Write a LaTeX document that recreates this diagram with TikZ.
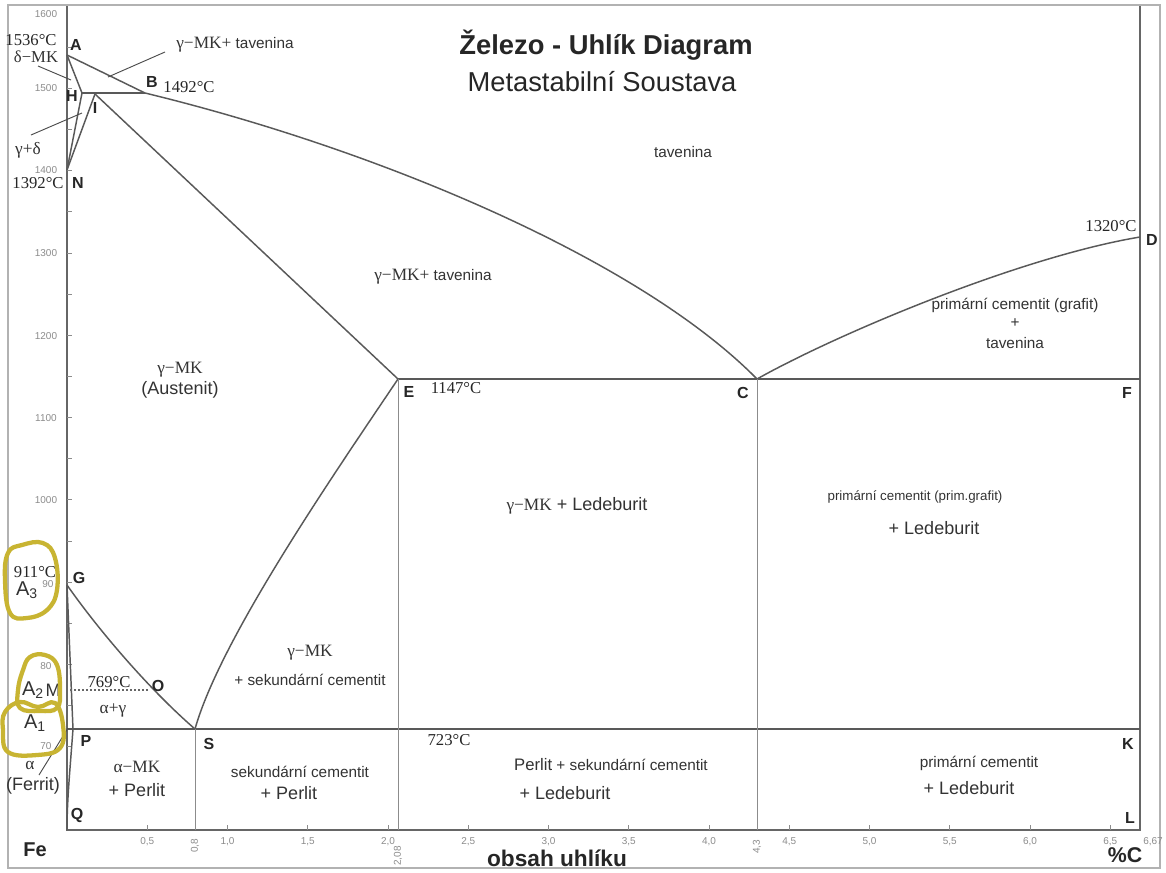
\documentclass[tikz,border=0pt]{standalone}
\usepackage{fontspec}
\setmainfont{Liberation Sans}
\newfontfamily\tms{Liberation Serif}
\definecolor{blobc}{RGB}{200,180,50}
\newcommand{\gfont}{\tms\fontsize{13}{15}\selectfont}
\begin{document}
\begin{tikzpicture}[x=0.75pt,y=-0.75pt,
  ptlab/.style={font=\bfseries\fontsize{12}{13}\selectfont, text=black!85, inner sep=0pt},
  regtxt/.style={font=\fontsize{11.5}{13}\selectfont, text=black!80, inner sep=0pt},
  bigtxt/.style={font=\fontsize{13.5}{15}\selectfont, text=black!80, inner sep=0pt},
  grk/.style={font=\gfont, text=black!80, inner sep=0pt},
  tmptxt/.style={font=\tms\fontsize{12.5}{14}\selectfont, text=black!85, inner sep=0pt},
  ticklab/.style={font=\fontsize{7.5}{8}\selectfont, text=black!45, inner sep=0pt},
  titletxt/.style={font=\fontsize{20.5}{23}\selectfont, text=black!85, inner sep=0pt},
  axtxt/.style={font=\bfseries\fontsize{16}{18}\selectfont, text=black!85, inner sep=0pt},
  phaseline/.style={draw=black!65, line width=1.1pt},
  thinline/.style={draw=black!45, line width=0.6pt},
  axisline/.style={draw=black!60, line width=1.1pt},
  leadline/.style={draw=black!70, line width=0.7pt},
  blobline/.style={draw=blobc, line width=3.2pt, line join=round},
]
\useasboundingbox (0,0) rectangle (1166,872);
\fill[white] (0,0) rectangle (1166,872);
\draw[black!30, line width=0.8pt] (8,5) rectangle (1160,868);

% key points
\coordinate (A) at (67,55);
\coordinate (B) at (145,93);
\coordinate (H) at (82,93);
\coordinate (I) at (95,94);
\coordinate (N) at (67,170);
\coordinate (E) at (398,379);
\coordinate (C) at (757,379);
\coordinate (F) at (1140,379);
\coordinate (D) at (1140,237);
\coordinate (G) at (67,585);
\coordinate (O) at (148,690);
\coordinate (Mp) at (70,690);
\coordinate (P) at (73,729);
\coordinate (Pl) at (67,729);
\coordinate (S) at (195,729);
\coordinate (K) at (1140,729);
\coordinate (Q) at (67,830);
\coordinate (L) at (1140,830);
\coordinate (TopL) at (67,6);
\coordinate (TopR) at (1140,6);
\coordinate (Eb) at (398,830);
\coordinate (Cb) at (757,830);
\coordinate (Sb) at (195,830);

% axes
\draw[axisline] (TopL) -- (Q) -- (L) -- (TopR);
\foreach \t in {700,750,...,1550} \draw[black!45, line width=0.5pt] (67,{6+(1600-\t)*0.823}) -- (72,{6+(1600-\t)*0.823});
\foreach \c in {0.5,1.0,...,6.5} \draw[black!45, line width=0.5pt] ({67+\c*160.5},830) -- ({67+\c*160.5},825);

% phase lines
\draw[phaseline] (A) -- (B);
\draw[phaseline] (A) -- (H);
\draw[phaseline] (H) -- (B);
\draw[phaseline] (H) -- (N);
\draw[phaseline] (I) -- (N);
\draw[phaseline] (I) -- (E);
\draw[phaseline] (B) .. controls (380,150) and (640,260) .. (C);
\draw[phaseline] (C) .. controls (837,334) and (1020,257) .. (D);
\draw[phaseline, line width=1.4pt] (E) -- (F);
\draw[phaseline] (E) .. controls (330,480) and (220,640) .. (S);
\draw[phaseline] (G) .. controls (100,632) and (150,690) .. (S);
\draw[phaseline] (G) -- (P);
\draw[phaseline] (P) .. controls (70,770) and (67,800) .. (Q);
\draw[phaseline, line width=1.5pt] (Pl) -- (K);
\draw[thinline] (E) -- (Eb);
\draw[thinline] (C) -- (Cb);
\draw[thinline] (S) -- (Sb);
\draw[black!60, line width=0.8pt, dash pattern=on 1.5pt off 1.5pt] (Mp) -- (O);

% leader lines
\coordinate (l1a) at (165,52); \coordinate (l1b) at (108,77);
\coordinate (l2a) at (38,66);  \coordinate (l2b) at (71,80);
\coordinate (l3a) at (31,135); \coordinate (l3b) at (82,113);
\coordinate (l4a) at (39,775); \coordinate (l4b) at (68,728);
\draw[leadline] (l1a) -- (l1b);
\draw[leadline] (l2a) -- (l2b);
\draw[leadline] (l3a) -- (l3b);
\draw[leadline] (l4a) -- (l4b);

% title
\node[titletxt, font=\bfseries\fontsize{20.5}{23}\selectfont] (title) at (606,45) {Železo - Uhlík Diagram};
\node[titletxt] (subtitle) at (602,82) {Metastabilní Soustava};

% temperature tick labels
\node[ticklab] (t1600) at (46,14) {1600};
\node[ticklab] (t1500) at (46,88) {1500};
\node[ticklab] (t1400) at (46,170) {1400};
\node[ticklab] (t1300) at (46,253) {1300};
\node[ticklab] (t1200) at (46,336) {1200};
\node[ticklab] (t1100) at (46,418) {1100};
\node[ticklab] (t1000) at (46,500) {1000};
\node[ticklab] (t900) at (48,584) {90};
\node[ticklab] (t800) at (46,666) {80};
\node[ticklab] (t700) at (46,746) {70};

% carbon tick labels
\foreach \c/\s in {0.5/{0,5},1.0/{1,0},1.5/{1,5},2.0/{2,0},2.5/{2,5},3.0/{3,0},3.5/{3,5},4.0/{4,0},4.5/{4,5},5.0/{5,0},5.5/{5,5},6.0/{6,0},6.5/{6,5}}
  \node[ticklab] (c\c) at ({67+\c*160.5},842) {\s};
\node[ticklab] (c667) at (1153,842) {6,67};
\node[ticklab, rotate=90] (c08) at (195,846) {0,8};
\node[ticklab, rotate=90] (c208) at (398,856) {2,08};
\node[ticklab, rotate=90] (c43) at (757,847) {4,3};

% axis titles
\node[axtxt, font=\bfseries\fontsize{15}{17}\selectfont] (fe) at (35,850) {Fe};
\node[axtxt, font=\bfseries\fontsize{17}{19}\selectfont] (obsah) at (557,858) {obsah uhlíku};
\node[axtxt] (pc) at (1125,855) {\%C};

% point labels
\node[ptlab] (lA) at (76,45) {A};
\node[ptlab] (lB) at (152,82) {B};
\node[ptlab] (lH) at (72,96) {H};
\node[ptlab] (lI) at (95,108) {I};
\node[ptlab] (lN) at (78,183) {N};
\node[ptlab] (lG) at (79,578) {G};
\node[ptlab] (lO) at (158,686) {O};
\node[ptlab] (lP) at (86,741) {P};
\node[ptlab] (lS) at (209,744) {S};
\node[ptlab] (lQ) at (77,815) {Q};
\node[ptlab] (lE) at (409,392) {E};
\node[ptlab] (lC) at (743,393) {C};
\node[ptlab] (lF) at (1127,393) {F};
\node[ptlab] (lD) at (1152,240) {D};
\node[ptlab] (lK) at (1128,744) {K};
\node[ptlab] (lL) at (1130,818) {L};

% temperatures
\node[tmptxt] (t1536) at (31,40) {1536°C};
\node[grk, font=\tms\fontsize{12.5}{14}\selectfont] (dmk) at (36,57) {δ−MK};
\node[tmptxt] (t1392) at (38,183) {1392°C};
\node[tmptxt] (t1492) at (189,87) {1492°C};
\node[tmptxt] (t1320) at (1111,226) {1320°C};
\node[tmptxt] (t1147) at (456,388) {1147°C};
\node[tmptxt] (t769) at (109,682) {769°C};
\node[tmptxt] (t723) at (449,740) {723°C};
\node[grk] (gd) at (28,150) {γ+δ};

% annotations at left
\node[tmptxt] (t911) at (35,572) {911°C};
\node[bigtxt, font=\fontsize{15}{17}\selectfont] (a3) at (27,590) {A\textsubscript{3}};
\node[bigtxt, font=\fontsize{15}{17}\selectfont] (a2) at (33,690) {A\textsubscript{2}};
\node[bigtxt] (lM) at (53,690) {M};
\node[bigtxt, font=\fontsize{15}{17}\selectfont] (a1) at (35,723) {A\textsubscript{1}};
\node[grk] (alpha) at (30,765) {α};
\node[bigtxt] (ferrit) at (33,786) {(Ferrit)};

% region labels
\node[regtxt] (r1) at (235,45) {{\gfont γ−MK+} tavenina};
\node[regtxt] (r2) at (683,152) {tavenina};
\node[regtxt] (r3) at (433,277) {{\gfont γ−MK+} tavenina};
\node[grk] (r4a) at (180,370) {γ−MK};
\node[bigtxt] (r4b) at (180,390) {(Austenit)};
\node[regtxt] (r5a) at (1015,305) {primární cementit (grafit)};
\node[regtxt] (r5b) at (1015,323) {+};
\node[regtxt] (r5c) at (1015,343) {tavenina};
\node[bigtxt] (r6) at (577,506) {{\gfont γ−MK} + Ledeburit};
\node[regtxt, font=\fontsize{10}{12}\selectfont] (r7a) at (915,497) {primární cementit (prim.grafit)};
\node[bigtxt] (r7b) at (934,528) {+ Ledeburit};
\node[grk] (r8a) at (310,653) {γ−MK};
\node[regtxt] (r8b) at (310,680) {+ sekundární cementit};
\node[grk] (r9) at (113,710) {α+γ};
\node[grk] (r10a) at (137,767) {α−MK};
\node[bigtxt] (r10b) at (137,790) {+ Perlit};
\node[regtxt] (r11a) at (300,772) {sekundární cementit};
\node[bigtxt] (r11b) at (289,793) {+ Perlit};
\node[regtxt] (r12a) at (611,765) {{\fontsize{12.5}{14}\selectfont Perlit} + sekundární cementit};
\node[bigtxt] (r12b) at (565,793) {+ Ledeburit};
\node[regtxt] (r13a) at (979,763) {primární cementit};
\node[bigtxt] (r13b) at (969,788) {+ Ledeburit};

% hand-drawn highlight loops
\draw[blobline] plot[smooth cycle, tension=0.7] coordinates {(8,553) (22,545) (43,543) (55,558) (57,590) (47,610) (27,618) (10,613) (5,580)};
\draw[blobline] plot[smooth cycle, tension=0.7] coordinates {(30,657) (45,655) (57,665) (60,690) (57,708) (40,711) (20,708) (18,690) (23,670)};
\draw[blobline] plot[smooth cycle, tension=0.7] coordinates {(5,712) (20,702) (38,707) (55,703) (63,725) (60,748) (37,755) (8,752) (3,730)};
\end{tikzpicture}
\end{document}
